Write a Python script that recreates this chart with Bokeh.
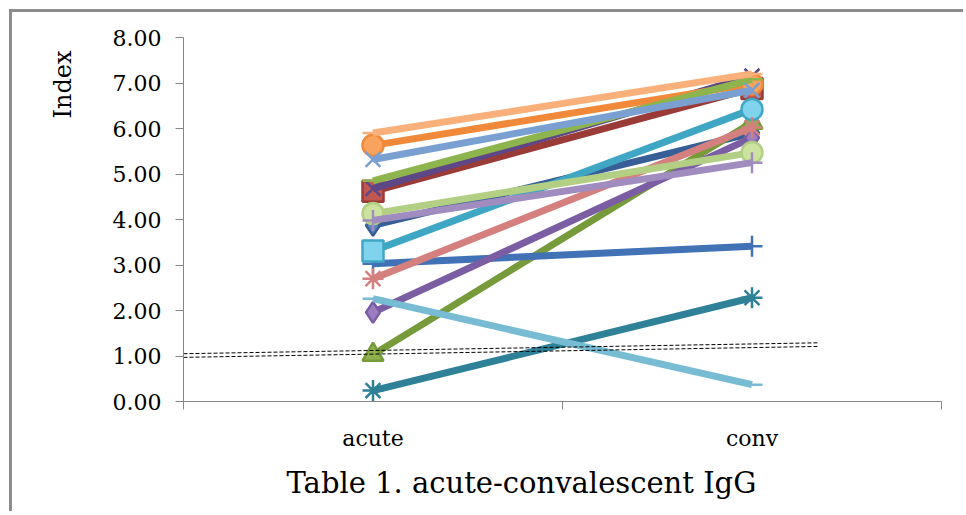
from bokeh.plotting import figure
from bokeh.models import FixedTicker, Range1d, ColumnDataSource, Title, NumeralTickFormatter
from bokeh.embed import file_html
from bokeh.resources import INLINE

# ---------------- data ----------------
categories = ["acute", "conv"]
y_ticks = [0, 1, 2, 3, 4, 5, 6, 7, 8]
y_title = "Index"
chart_title = "Table 1. acute-convalescent IgG"

# index values per patient (acute, convalescent)
acute_values = [3.87, 4.62, 1.03, 4.68, 0.24, 5.63, 3.03, 4.85,
                1.96, 3.31, 2.70, 4.13, 3.98, 5.32, 2.26, 5.90]
conv_values = [5.90, 6.88, 6.13, 7.15, 2.28, 6.98, 3.41, 7.08,
               5.80, 6.42, 6.02, 5.47, 5.25, 6.84, 0.37, 7.20]

# hand-drawn double dashed cut-off line (x in category units, y in index)
cutoff_x = [0.0, 1.675]
cutoff_upper = [1.05, 1.29]
cutoff_lower = [0.97, 1.21]

# ---------------- styles ----------------
line_colors = ["#375E96", "#9B3B38", "#779A3A", "#5E4786", "#2F8198", "#F08A3A",
               "#4272B6", "#8DB44D", "#7A5DA2", "#3FA7C4", "#D4807E", "#B3CF83",
               "#A08CBF", "#7AA0D2", "#78BCD3", "#FAB07A"]
fill_colors = ["#5A82BE", "#BF5752", "#90B24E", "#7A62A4", "#3E9DB6", "#F9A35E",
               "#4A7CC2", "#A3C86A", "#9A7EC0", "#80D3EC", "#E39A98", "#CBE39E",
               "#B7A6D2", "#97B8E2", "#9ED0E2", "#FBC398"]
markers_acute = ["diamond", "square", "triangle", "x", "asterisk", "circle",
                 "cross", "dash", "diamond", "square", "asterisk", "circle",
                 "cross", "x", "dash", "dash"]
markers_conv = ["diamond", "square", "triangle", "x", "asterisk", "circle",
                "cross", "dash", "diamond", "circle", "asterisk", "circle",
                "cross", "x", "dash", "dash"]

SERIF = "DejaVu Serif"
AXIS_GRAY = "#868686"

cat_x = [i + 0.5 for i in range(len(categories))]
cat_edges = list(range(len(categories) + 1))

p = figure(width=954, height=502, output_backend="svg", toolbar_location=None,
           x_range=Range1d(cat_edges[0], cat_edges[-1]),
           y_range=Range1d(y_ticks[0], y_ticks[-1]))
p.min_border_left = 171
p.min_border_right = 25
p.min_border_top = 25
p.min_border_bottom = 113
p.outline_line_color = None
p.grid.visible = False
p.background_fill_color = "white"
p.border_fill_color = "white"
p.styles = {"margin-left": "9px", "margin-top": "9px",
            "border-top": "3px solid #8C8C8C", "border-left": "3px solid #8C8C8C"}

# x axis: labels at category centres, ticks at category boundaries
xa = p.xaxis[0]
xa.ticker = FixedTicker(ticks=cat_x, minor_ticks=cat_edges)
xa.major_label_overrides = {cx: c for cx, c in zip(cat_x, categories)}
xa.major_tick_out = 0
xa.major_tick_in = 0
xa.minor_tick_out = 8
xa.minor_tick_in = 0
xa.minor_tick_line_color = AXIS_GRAY
xa.axis_line_color = AXIS_GRAY
xa.major_label_text_font = SERIF
xa.major_label_text_font_size = "22px"
xa.major_label_text_color = "black"
xa.major_label_standoff = 16

ya = p.yaxis[0]
ya.ticker = FixedTicker(ticks=y_ticks)
ya.formatter = NumeralTickFormatter(format="0.00")
ya.major_tick_out = 8
ya.major_tick_in = 0
ya.minor_tick_line_color = None
ya.major_tick_line_color = AXIS_GRAY
ya.axis_line_color = AXIS_GRAY
ya.major_label_text_font = SERIF
ya.major_label_text_font_size = "22px"
ya.major_label_text_color = "black"
ya.major_label_standoff = 14

# y axis title near the top of the axis, as in the original
p.add_layout(Title(text=y_title, text_font=SERIF, text_font_size="24px",
                   text_font_style="normal", text_color="black",
                   align="right", offset=13, standoff=66), "left")

# series
for i in range(len(acute_values)):
    src = ColumnDataSource(dict(x=cat_x, y=[acute_values[i], conv_values[i]],
                                m=[markers_acute[i], markers_conv[i]]))
    p.line("x", "y", source=src, line_color=line_colors[i], line_width=7,
           line_join="round")
    p.scatter("x", "y", source=src, marker="m", size=21,
              fill_color=fill_colors[i], line_color=line_colors[i], line_width=2.5)

# cut-off double dashed line
p.line(cutoff_x, cutoff_upper, line_color="black", line_width=1, line_dash="4 2")
p.line(cutoff_x, cutoff_lower, line_color="black", line_width=1, line_dash="4 2")

p.add_layout(Title(text=chart_title, text_font=SERIF,
                   text_font_size="29px", text_font_style="normal", text_color="black",
                   align="left", offset=103, standoff=21), "below")

open("out.html", "w").write(file_html(p, INLINE))
